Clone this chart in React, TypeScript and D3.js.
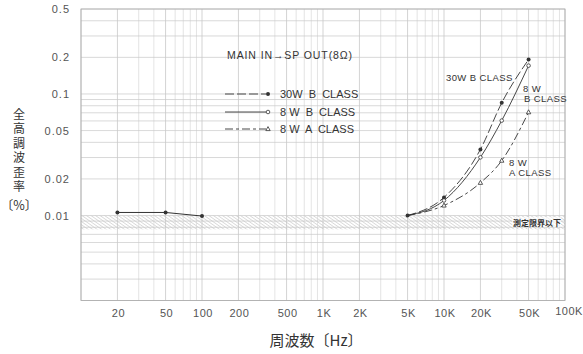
import React from "react";
import * as d3 from "d3";

const xTickValues = [20, 50, 100, 200, 500, 1000, 2000, 5000, 10000, 20000, 50000, 100000];
const xTickLabels = ["20", "50", "100", "200", "500", "1K", "2K", "5K", "10K", "20K", "50K", "100K"];
const yTickValues = [0.5, 0.2, 0.1, 0.05, 0.02, 0.01];
const yTickLabels = ["0.5", "0.2", "0.1", "0.05", "0.02", "0.01"];

const lowFreq = [20, 50, 100];
const lowVals = [0.0106, 0.0106, 0.0099];

const highFreq = [5000, 10000, 20000, 30000, 50000];
const w30B = [0.01, 0.0141, 0.035, 0.0845, 0.192];
const w8B = [0.01, 0.0133, 0.0301, 0.0604, 0.171];
const w8A = [0.01, 0.0121, 0.0186, 0.0283, 0.0708];

const seriesNames = ["30W  B  CLASS", "8 W  B  CLASS", "8 W  A  CLASS"];
const yTitle = "全高調波歪率";
const limitTop = 0.01;
const limitBottom = 0.0077;

const W = 583, H = 354;
const left = 81, right = 565, top = 9, bottom = 300.5;

export default function App() {
  const x = d3.scaleLog().domain([10, 100000]).range([left, right]);
  const y = d3.scaleLog().domain([0.002, 0.5]).range([bottom, top]);

  const vGrid: number[] = [];
  for (let e = 1; e <= 4; e++) for (let m = 1; m <= 9; m++) vGrid.push(m * Math.pow(10, e));
  vGrid.push(100000);
  const hGrid: number[] = [];
  for (let e = -3; e <= -1; e++) for (let m = 1; m <= 9; m++) {
    const v = m * Math.pow(10, e);
    if (v >= 0.002 - 1e-9 && v <= 0.5 + 1e-9) hGrid.push(v);
  }

  const line = d3.line<[number, number]>().x(d => x(d[0])).y(d => y(d[1])).curve(d3.curveMonotoneX);
  const lowLine = d3.line<[number, number]>().x(d => x(d[0])).y(d => y(d[1]));
  const series = [w30B, w8B, w8A];
  const dashes = ["9 3", "none", "8 3 3 3"];
  const col = "#333";
  const font = "'Liberation Sans', Arial, sans-serif";
  const cjk = "'Noto Sans CJK JP', sans-serif";

  const marker = (i: number, cx: number, cy: number, key: string) => {
    if (i === 0) return <circle key={key} cx={cx} cy={cy} r={2} fill={col} />;
    if (i === 1) return <circle key={key} cx={cx} cy={cy} r={1.8} fill="#fff" stroke={col} strokeWidth={0.8} />;
    return <path key={key} d={`M${cx},${cy - 2.4}L${cx + 2.2},${cy + 1.6}L${cx - 2.2},${cy + 1.6}Z`} fill="#fff" stroke={col} strokeWidth={0.8} />;
  };

  const legendY = [94, 112, 129];

  return (
    <svg width={W} height={H} style={{ position: "absolute", left: 0, top: 0, background: "#fff" }}>
      <defs>
        <pattern id="hatch" width="2.6" height="2.6" patternUnits="userSpaceOnUse" patternTransform="rotate(-55)">
          <line x1="0" y1="0" x2="0" y2="2.6" stroke="#aaa" strokeWidth="0.8" />
        </pattern>
      </defs>
      <rect x={0} y={0} width={W} height={H} fill="#fff" />
      <rect x={left} y={y(limitTop)} width={right - left} height={y(limitBottom) - y(limitTop)} fill="url(#hatch)" />
      {vGrid.map((v, i) => {
        const s = String(v)[0];
        const major = s === "1" || s === "2" || s === "5";
        return <line key={"v" + i} x1={x(v)} x2={x(v)} y1={top} y2={bottom} stroke={major ? "#c0c0c0" : "#d8d8d8"} strokeWidth={0.7} />;
      })}
      {hGrid.map((v, i) => (
        <line key={"h" + i} x1={left} x2={right} y1={y(v)} y2={y(v)} stroke="#c8c8c8" strokeWidth={0.7} />
      ))}
      <rect x={left} y={top} width={right - left} height={bottom - top} fill="none" stroke="#aaa" strokeWidth={0.8} />
      {xTickValues.map((v, i) => (
        <text key={"xt" + i} x={x(v) + (v === 100000 ? 4 : 1)} y={v === 100000 ? 315 : 317} fontSize={11} fill="#555" textAnchor="middle" fontFamily={font} letterSpacing={0.5}>{xTickLabels[i]}</text>
      ))}
      {yTickValues.map((v, i) => (
        <text key={"yt" + i} x={70} y={y(v) + 4} fontSize={11} fill="#555" textAnchor="end" fontFamily={font} letterSpacing={1}>{yTickLabels[i]}</text>
      ))}
      <text x={19} y={108} fontSize={12} fill="#333" fontFamily={cjk} letterSpacing={2.5} style={{ writingMode: "vertical-rl" }}>{yTitle}</text>
      <text x={19} y={210} fontSize={12.5} fill="#333" textAnchor="middle" fontFamily={cjk}>〔%〕</text>
      <text x={316} y={346} fontSize={15} fill="#333" textAnchor="middle" fontFamily={cjk}>周波数〔Hz〕</text>
      <path d={lowLine(lowFreq.map((f, i) => [f, lowVals[i]]) as [number, number][]) || ""} fill="none" stroke={col} strokeWidth={1} />
      {lowFreq.map((f, i) => <circle key={"lf" + i} cx={x(f)} cy={y(lowVals[i])} r={2} fill={col} />)}
      {series.map((vals, si) => (
        <g key={"s" + si}>
          <path d={line(highFreq.map((f, i) => [f, vals[i]]) as [number, number][]) || ""} fill="none" stroke={col} strokeWidth={0.9} strokeDasharray={dashes[si]} />
          {highFreq.map((f, i) => (i === 0 ? null : marker(si, x(f), y(vals[i]), "m" + si + i)))}
        </g>
      ))}
      <circle cx={x(highFreq[0])} cy={y(w30B[0])} r={2} fill={col} />
      <text x={227} y={59} fontSize={10.5} fill="#333" fontFamily={font} letterSpacing={0.9}>MAIN IN→SP OUT(8Ω)</text>
      {legendY.map((ly, i) => (
        <g key={"lg" + i}>
          <line x1={225} x2={266} y1={ly} y2={ly} stroke={col} strokeWidth={0.9} strokeDasharray={dashes[i]} />
          {marker(i, 268, ly, "lm" + i)}
          <text x={280} y={ly + 4} fontSize={11} fill="#333" fontFamily={font} style={{ whiteSpace: "pre" }}>{seriesNames[i]}</text>
        </g>
      ))}
      <text x={446} y={81} fontSize={9.5} fill="#333" fontFamily={font} letterSpacing={0.4} style={{ whiteSpace: "pre" }}>30W B CLASS</text>
      <text x={523} y={92} fontSize={9.5} fill="#333" fontFamily={font} letterSpacing={0.4} style={{ whiteSpace: "pre" }}>8 W</text>
      <text x={524} y={102} fontSize={9.5} fill="#333" fontFamily={font} letterSpacing={0.4} style={{ whiteSpace: "pre" }}>B CLASS</text>
      <text x={509} y={166} fontSize={9.5} fill="#333" fontFamily={font} letterSpacing={0.4} style={{ whiteSpace: "pre" }}>8 W</text>
      <text x={509} y={176} fontSize={9.5} fill="#333" fontFamily={font} letterSpacing={0.4} style={{ whiteSpace: "pre" }}>A CLASS</text>
      <rect x={512} y={217} width={49} height={10} fill="#fff" opacity={0.6} />
      <text x={513} y={225.5} fontSize={8} fill="#333" fontFamily={cjk} fontWeight="bold">測定限界以下</text>
    </svg>
  );
}
